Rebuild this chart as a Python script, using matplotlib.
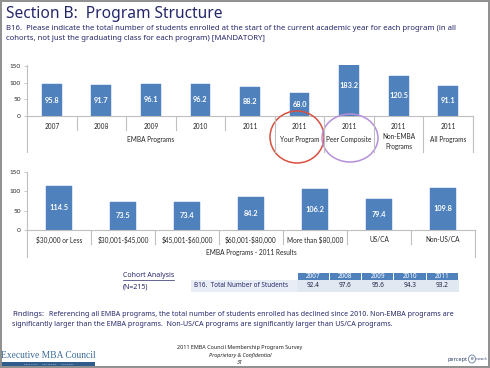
import matplotlib
matplotlib.use("Agg")
import matplotlib.pyplot as plt
from matplotlib.lines import Line2D
from matplotlib.patches import Ellipse, Rectangle

# ---------------- data ----------------
top_categories = ["2007", "2008", "2009", "2010", "2011", "2011", "2011", "2011", "2011"]
top_values = [95.8, 91.7, 96.1, 96.2, 88.2, 68.0, 183.2, 120.5, 91.1]
top_groups = ["EMBA Programs", "Your Program", "Peer Composite", "Non-EMBA\nPrograms", "All Programs"]
top_group_sizes = [5, 1, 1, 1, 1]

bottom_categories = ["$30,000 or Less", "$30,001-$45,000", "$45,001-$60,000", "$60,001-$80,000",
                     "More than $80,000", "US/CA", "Non-US/CA"]
bottom_values = [114.5, 73.5, 73.4, 84.2, 106.2, 79.4, 109.8]
bottom_group = "EMBA Programs - 2011 Results"

yticks = [0, 50, 100, 150]

table_years = ["2007", "2008", "2009", "2010", "2011"]
table_values = [92.4, 97.6, 95.6, 94.3, 93.2]
table_row_label = "B16.  Total Number of Students"

title = "Section B:  Program Structure"
subtitle = ["B16.  Please indicate the total number of students enrolled at the start of the current academic year for each program (in all",
            "cohorts, not just the graduating class for each program) [MANDATORY]"]
findings = ["Referencing all EMBA programs, the total number of students enrolled has declined since 2010. Non-EMBA programs are",
            "significantly larger than the EMBA programs.  Non-US/CA programs are significantly larger than US/CA programs."]

# ---------------- style ----------------
W, H = 490, 368
BAR = "#4F81BD"
NAVY = "#25276B"
GRID = "#BFBFBF"
LBL = "#262626"
CHART_FONT = ["Lato", "DejaVu Sans"]
SLIDE_FONT = ["Noto Sans", "DejaVu Sans"]

fig = plt.figure(figsize=(W / 100, H / 100), dpi=100)
fig.patch.set_facecolor("white")
renderer = fig.canvas.get_renderer()


def fx(x):
    return x / W


def fy(y):
    return 1 - y / H


def add_axes_px(x0, y0, x1, y1):
    return fig.add_axes([x0 / W, 1 - y1 / H, (x1 - x0) / W, (y1 - y0) / H])


def vline(x, y0, y1, color=GRID, lw=0.8):
    fig.add_artist(Line2D([fx(x), fx(x)], [fy(y0), fy(y1)], transform=fig.transFigure,
                          color=color, lw=lw))


def text(x, y, s, **kw):
    return fig.text(fx(x), fy(y), s, parse_math=False, **kw)


def fit_text(x, y, s, width, size0=8, **kw):
    t = text(x, y, s, fontsize=size0, **kw)
    w = t.get_window_extent(renderer).width
    t.set_fontsize(size0 * width / w)
    return t


def bar_chart(x0, x1, y_top, y_zero, ymax, cats, vals):
    ax = add_axes_px(x0, y_top, x1, y_zero)
    pos = list(range(len(cats)))
    ax.bar(pos, vals, width=0.4, color=BAR, edgecolor=BAR, lw=0.3, zorder=2)
    ax.set_xlim(-0.5, len(cats) - 0.5)
    ax.set_ylim(0, ymax)
    ax.set_yticks(yticks)
    ax.set_yticklabels([str(v) for v in yticks], fontsize=4.6, color=LBL, family=CHART_FONT)
    ax.tick_params(axis="y", length=2.5, width=0.6, color=GRID, pad=2)
    ax.set_xticks([])
    for s in ["top", "right"]:
        ax.spines[s].set_visible(False)
    for s in ["left", "bottom"]:
        ax.spines[s].set_color(GRID)
        ax.spines[s].set_linewidth(0.8)
    ax.set_facecolor("none")
    for p, v in zip(pos, vals):
        ax.text(p, v / 2, f"{v:.1f}", ha="center", va="center", color="white",
                fontsize=5.3, fontweight="bold", family=CHART_FONT, clip_on=False, zorder=3)
    return ax


# ---------------- top chart ----------------
tx0, tx1, t_top, t_zero = 27, 473, 65, 116
bar_chart(tx0, tx1, t_top, t_zero, 153, top_categories, top_values)
tcw = (tx1 - tx0) / len(top_categories)
for i, c in enumerate(top_categories):
    text(tx0 + (i + 0.5) * tcw, 126, c, ha="center", va="center", fontsize=4.7,
         color=LBL, family=CHART_FONT)
start = 0
for g, n in zip(top_groups, top_group_sizes):
    cx = tx0 + (start + n / 2) * tcw
    text(cx, 141.5 if "\n" in g else 139, g, ha="center", va="center", fontsize=4.7,
         color=LBL, family=CHART_FONT, linespacing=1.5)
    for k in range(1, n):
        vline(tx0 + (start + k) * tcw, t_zero, 129.5)
    start += n
    vline(tx0 + start * tcw, t_zero, 152)
vline(tx0, t_zero, 152)

# ---------------- bottom chart ----------------
bx0, bx1, b_top, b_zero = 27, 475, 172, 230
bar_chart(bx0, bx1, b_top, b_zero, 150, bottom_categories, bottom_values)
bcw = (bx1 - bx0) / len(bottom_categories)
for i, c in enumerate(bottom_categories):
    text(bx0 + (i + 0.5) * bcw, 240, c, ha="center", va="center", fontsize=4.7,
         color=LBL, family=CHART_FONT)
    if 0 < i:
        vline(bx0 + i * bcw, b_zero, 243.5)
vline(bx0, b_zero, 257)
vline(bx1, b_zero, 257)
text((bx0 + bx1) / 2, 253, bottom_group, ha="center", va="center", fontsize=4.7,
     color=LBL, family=CHART_FONT)

# ---------------- highlight circles ----------------
fig.add_artist(Ellipse((fx(297), fy(137)), 54 / W, 52 / H, transform=fig.transFigure,
                       fill=False, edgecolor="#D9503E", lw=1.1))
fig.add_artist(Ellipse((fx(350), fy(138)), 56 / W, 48 / H, transform=fig.transFigure,
                       fill=False, edgecolor="#B58FDA", lw=1.1))

# ---------------- title texts ----------------
fit_text(6, 14, title, 217, color=NAVY, va="center", family=SLIDE_FONT)
s1 = fit_text(6, 28, subtitle[0], 451, color=NAVY, va="center", family=SLIDE_FONT)
text(6, 38, subtitle[1], color=NAVY, va="center", family=SLIDE_FONT, fontsize=s1.get_fontsize())

# ---------------- table ----------------
col_x0, col_w = 297, 32.3
hdr_y0, hdr_y1, row_y1 = 272.5, 279.5, 292
for i, (yr, v) in enumerate(zip(table_years, table_values)):
    x = col_x0 + i * col_w
    fig.add_artist(Rectangle((fx(x + 0.5), fy(hdr_y1)), (col_w - 1) / W, (hdr_y1 - hdr_y0) / H,
                             transform=fig.transFigure, facecolor=BAR, edgecolor="none"))
    fig.add_artist(Rectangle((fx(x), fy(row_y1)), col_w / W, (row_y1 - hdr_y1) / H,
                             transform=fig.transFigure, facecolor="#E2E8F2", edgecolor="none"))
    text(x + col_w / 2, (hdr_y0 + hdr_y1) / 2, yr, ha="center", va="center", color="white",
         fontsize=4.6, fontweight="bold", family=SLIDE_FONT)
    text(x + col_w / 2, (hdr_y1 + row_y1) / 2, f"{v:.1f}", ha="center", va="center",
         color="#1F1F3F", fontsize=4.6, family=SLIDE_FONT)
fig.add_artist(Rectangle((fx(191), fy(row_y1)), (col_x0 - 191) / W, (row_y1 - hdr_y1) / H,
                         transform=fig.transFigure, facecolor="#E9EDF5", edgecolor="none"))
text(194, (hdr_y1 + row_y1) / 2, table_row_label, va="center", color=NAVY, fontsize=4.6,
     family=SLIDE_FONT)
ca = text(123, 275.5, "Cohort Analysis", va="center", color=NAVY, fontsize=5.0, family=SLIDE_FONT)
ext = ca.get_window_extent(renderer)
fig.add_artist(Line2D([fx(123), fx(123 + ext.width)], [fy(279.5), fy(279.5)],
                      transform=fig.transFigure, color=NAVY, lw=0.5))
text(123, 287, "(N=215)", va="center", color=NAVY, fontsize=5.0, family=SLIDE_FONT)

# ---------------- findings ----------------
fl = text(12, 314, "Findings:", va="center", color=NAVY, fontsize=5.4, fontweight="bold",
          family=SLIDE_FONT)
fw = fl.get_window_extent(renderer).width
f1 = fit_text(12 + fw + 5, 314, findings[0], 452 - (12 + fw + 5), va="center", color=NAVY,
              family=SLIDE_FONT)
text(12, 324.5, findings[1], va="center", color=NAVY, fontsize=f1.get_fontsize(),
     family=SLIDE_FONT)

# ---------------- footer ----------------
text(240, 347, "2011 EMBA Council Membership Program Survey", ha="center", va="center",
     fontsize=3.9, color="#222222", family=SLIDE_FONT)
text(240, 355, "Proprietary & Confidential", ha="center", va="center", fontsize=3.9,
     style="italic", color="#222222", family=SLIDE_FONT)
text(240, 363, "31", ha="center", va="center", fontsize=3.9, style="italic", color="#222222",
     family=SLIDE_FONT)

fit_text(1, 355, "Executive MBA Council", 94, va="center", color="#3A6C9B",
         family=["Liberation Serif", "DejaVu Serif"])
fig.add_artist(Rectangle((fx(1), fy(366)), 94 / W, 4 / H, transform=fig.transFigure,
                         facecolor="#2F5C8A", edgecolor="none"))
text(48, 364, "E D U C A T E   ·   N E T W O R K   ·   I N F O R M", ha="center", va="center",
     fontsize=1.6, color="white", family=SLIDE_FONT)

fit_text(447, 359, "percept", 20, va="center", fontweight="bold", color="#2D3D6C",
         family=SLIDE_FONT)
fig.add_artist(Ellipse((fx(472), fy(359)), 7 / W, 8 / H, transform=fig.transFigure,
                       fill=False, edgecolor="#6A7FA8", lw=0.6))
text(472, 359, "e", ha="center", va="center", fontsize=3.6, color="#2D3D6C", family=SLIDE_FONT)
fit_text(476, 359, "research", 11.5, va="center", color="#2D3D6C", family=SLIDE_FONT)

# ---------------- slide frame ----------------
fig.add_artist(Rectangle((0.002, 0.002), 0.996, 0.996, transform=fig.transFigure, fill=False,
                         edgecolor="#8E8E8E", lw=1.4))

fig.savefig("out.png", dpi=100, facecolor="white")
